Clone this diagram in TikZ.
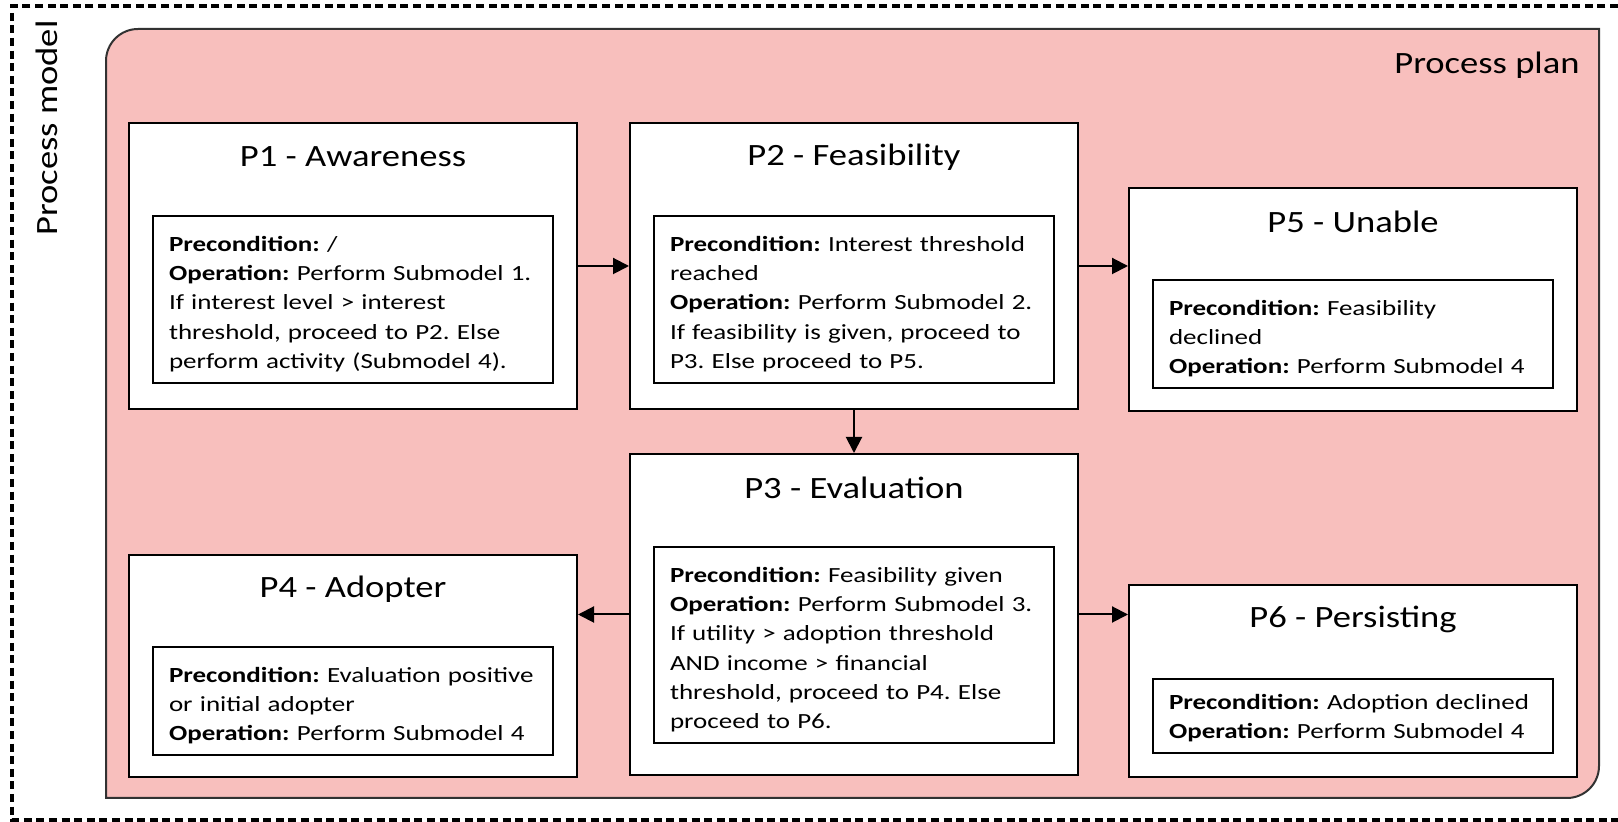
\documentclass[tikz,border=0pt]{standalone}
\usepackage{fontspec}
\setmainfont{Carlito}[FakeStretch=1.18]
\newfontfamily\bodyfont{Carlito}[FakeStretch=1.25]
\usepackage{tikz}
\usetikzlibrary{positioning, arrows.meta}
\definecolor{planPink}{RGB}{248, 191, 189}
\definecolor{planEdge}{RGB}{50, 50, 50}
\frenchspacing
\tikzset{
    rulepad/.store in=\rulepad,
    rulepad=12.3pt,
    base/.style={
        font=\bodyfont\fontsize{10.8}{14.6}\selectfont,
        align=left
    },
    stage/.style={
        rectangle,
        draw=black,
        line width=1pt,
        fill=white,
        anchor=north west,
        minimum width=224pt
    },
    stagetitle/.style={
        font=\fontsize{15.5}{18}\selectfont,
        inner sep=0pt
    },
    rulebox/.style={
        base,
        rectangle,
        draw=black,
        line width=1pt,
        fill=white,
        text width=184pt,
        inner xsep=8pt,
        inner ysep=5.5pt,
        execute at begin node={\rule{0pt}{\rulepad}}
    },
    flow/.style={
        -{Triangle[length=8pt, width=8pt]},
        line width=1pt,
        black
    },
    modelframe/.style={
        line width=2pt,
        dash pattern=on 4pt off 2.3pt
    },
    plan/.style={
        fill=planPink,
        draw=planEdge,
        line width=1pt
    },
    caption/.style={
        font=\fontsize{15.5}{18}\selectfont,
        inner sep=0pt
    }
}

\begin{document}
\begin{tikzpicture}[x=0.5pt, y=-0.5pt]
  \useasboundingbox (0,0) rectangle (1618,822);

  % Process model frame
  \draw[modelframe] (1618,6) -- (12,6) -- (12,820) -- (1618,820);
  \node[caption, rotate=90, anchor=base] (model) at (57,128) {Process model};

  % Process plan area
  \draw[plan] (106,798) -- (106,61) arc[start angle=180, end angle=270, radius=32]
    -- (1599,29) -- (1599,766) arc[start angle=0, end angle=90, radius=32] -- cycle;
  \node[caption, anchor=base east] (planlabel) at (1580,74) {Process plan};

  % Stages
  \node[stage, minimum height=143pt] (p1) at (128,122) {};
  \node[stage, minimum height=143pt] (p2) at (629,122) {};
  \node[stage, minimum height=160.5pt] (p3) at (629,453) {};
  \node[stage, minimum height=111pt] (p4) at (128,554) {};
  \node[stage, minimum height=111.5pt] (p5) at (1128,187) {};
  \node[stage, minimum height=96pt] (p6) at (1128,584) {};

  % Titles
  \node[stagetitle] (p1t) at ([yshift=-17.5pt]p1.north) {P1 - Awareness};
  \node[stagetitle] (p2t) at ([yshift=-17.5pt]p2.north) {P2 - Feasibility};
  \node[stagetitle] (p3t) at ([yshift=-17.5pt]p3.north) {P3 - Evaluation};
  \node[stagetitle] (p4t) at ([yshift=-17.5pt]p4.north) {P4 - Adopter};
  \node[stagetitle] (p5t) at ([yshift=-17.5pt]p5.north) {P5 - Unable};
  \node[stagetitle] (p6t) at ([yshift=-17.5pt]p6.north) {P6 - Persisting};

  % Preconditions and operations
  \node[rulebox, below=46.5pt of p1.north] (p1r) {
      \textbf{Precondition:} /\\
      \textbf{Operation:} Perform Submodel 1.\\
      If interest level > interest\\
      threshold, proceed to P2. Else\\
      perform activity (Submodel 4).
  };
  \node[rulebox, below=46.5pt of p2.north] (p2r) {
      \textbf{Precondition:} Interest threshold\\
      reached\\
      \textbf{Operation:} Perform Submodel 2.\\
      If feasibility is given, proceed to\\
      P3. Else proceed to P5.
  };
  \node[rulebox, below=46.5pt of p3.north] (p3r) {
      \textbf{Precondition:} Feasibility given\\
      \textbf{Operation:} Perform Submodel 3.\\
      If utility > adoption threshold\\
      AND income > financial\\
      threshold, proceed to P4. Else\\
      proceed to P6.
  };
  \node[rulebox, below=46pt of p4.north] (p4r) {
      \textbf{Precondition:} Evaluation positive\\
      or initial adopter\\
      \textbf{Operation:} Perform Submodel 4
  };
  \node[rulebox, below=46pt of p5.north] (p5r) {
      \textbf{Precondition:} Feasibility\\
      declined\\
      \textbf{Operation:} Perform Submodel 4
  };
  \node[rulebox, rulepad=9.8pt, below=47pt of p6.north] (p6r) {
      \textbf{Precondition:} Adoption declined\\
      \textbf{Operation:} Perform Submodel 4
  };

  % Transitions
  \draw[flow] (p1.east) -- (p2.west);
  \draw[flow] (p2.east) -- (p2.east -| p5.west);
  \draw[flow] (p2.south) -- (p3.north);
  \draw[flow] (p3.west) -- (p3.west -| p4.east);
  \draw[flow] (p3.east) -- (p3.east -| p6.west);
\end{tikzpicture}
\end{document}
